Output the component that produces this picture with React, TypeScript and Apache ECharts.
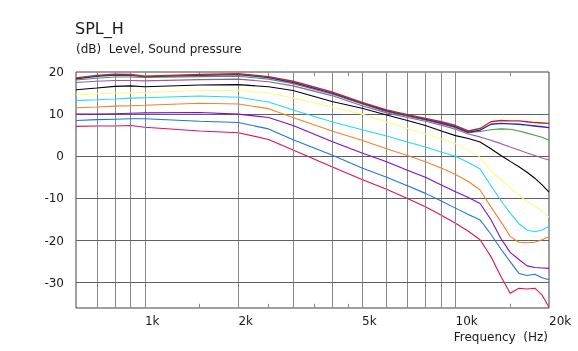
import React, { useEffect, useRef } from "react";
import * as echarts from "echarts";

// Frequencies (Hz) shared by every curve
const freqs = [600, 700, 800, 900, 1000, 1500, 2000, 2500, 3000, 4000, 5000, 6000, 7000, 8000, 9000, 10000, 11000, 12000, 13000, 14000, 15000, 16000, 17000, 18000, 19000, 20000];

// SPL curves (dB), top to bottom
const redCurve = [18.6, 19.2, 19.5, 19.4, 19.0, 19.4, 19.6, 18.9, 17.8, 15.3, 12.8, 11.0, 9.9, 9.0, 8.2, 7.3, 6.0, 6.6, 8.2, 8.5, 8.4, 8.4, 8.2, 8.0, 7.9, 7.8];
const navyCurve = [18.4, 19.0, 19.3, 19.2, 18.9, 19.2, 19.4, 18.7, 17.5, 15.0, 12.6, 10.8, 9.7, 8.8, 7.9, 7.0, 5.7, 6.2, 7.6, 7.8, 7.7, 7.6, 7.4, 7.2, 7.0, 6.8];
const greenCurve = [18.1, 18.5, 18.8, 18.8, 18.7, 18.9, 19.0, 18.3, 17.2, 14.8, 12.4, 10.6, 9.5, 8.6, 7.7, 6.8, 5.6, 5.9, 6.3, 6.5, 6.4, 6.0, 5.5, 5.0, 4.5, 3.8];
const mauveCurve = [17.5, 17.8, 18.0, 18.0, 17.9, 18.2, 18.3, 17.7, 16.7, 14.4, 12.0, 10.3, 9.2, 8.3, 7.4, 6.4, 5.3, 4.6, 3.8, 3.0, 2.2, 1.5, 0.8, 0.2, -0.4, -0.9];
const blackCurve = [15.8, 16.2, 16.6, 16.7, 16.5, 16.9, 17.0, 16.5, 15.6, 13.0, 11.4, 9.8, 8.5, 7.3, 6.0, 4.9, 4.2, 3.4, 1.8, 0.2, -1.2, -2.5, -3.8, -5.2, -6.8, -8.5];
const yellowCurve = [14.6, 14.8, 15.0, 15.1, 15.1, 15.6, 15.6, 15.0, 13.8, 11.7, 10.0, 8.1, 6.6, 5.3, 4.1, 3.0, 1.4, -0.2, -3.5, -5.5, -7.5, -9.2, -10.8, -11.8, -13.0, -14.5];
const cyanCurve = [13.2, 13.4, 13.6, 13.8, 13.9, 14.3, 14.0, 12.9, 11.0, 8.2, 6.3, 4.8, 3.4, 2.2, 1.0, 0.0, -1.5, -3.0, -7.0, -10.5, -13.5, -16.0, -17.5, -17.9, -17.5, -16.6];
const orangeCurve = [11.5, 11.7, 11.9, 12.0, 12.1, 12.6, 12.4, 11.3, 9.2, 6.0, 3.8, 1.8, 0.2, -1.3, -2.8, -4.3, -6.0, -8.0, -12.0, -15.5, -19.0, -20.4, -20.5, -20.4, -19.8, -19.1];
const violetCurve = [10.0, 10.0, 10.1, 10.2, 10.3, 10.4, 10.0, 9.2, 7.3, 3.5, 0.8, -1.3, -3.3, -5.0, -6.8, -8.4, -9.8, -11.2, -15.0, -19.5, -22.8, -24.5, -26.0, -26.4, -26.5, -26.6];
const blueCurve = [8.5, 8.7, 8.8, 8.9, 8.9, 8.3, 8.0, 6.5, 3.9, 0.3, -2.8, -5.0, -7.0, -8.8, -10.6, -12.3, -13.8, -15.1, -18.5, -22.0, -25.0, -27.8, -28.3, -28.0, -28.8, -29.3];
const crimsonCurve = [7.1, 7.2, 7.2, 7.3, 6.9, 6.0, 5.6, 4.0, 1.5, -2.5, -5.5, -7.8, -10.0, -12.0, -14.0, -15.9, -17.8, -19.8, -23.8, -28.5, -32.5, -31.3, -31.5, -31.3, -32.9, -35.8];

const curves = [redCurve, navyCurve, greenCurve, mauveCurve, blackCurve, yellowCurve, cyanCurve, orangeCurve, violetCurve, blueCurve, crimsonCurve];
const curveColors = ["#c02828", "#2828b0", "#4a9a4a", "#9a58aa", "#000000", "#fafa8c", "#28d8f0", "#f08428", "#7a10c8", "#2074e0", "#e0105e"];

// Axis ticks / grid
const xLabelValues = [1000, 2000, 5000, 10000, 20000];
const xGridValues = [700, 800, 900, 1000, 2000, 3000, 4000, 5000, 6000, 7000, 8000, 9000, 10000];
const xMinorTicks = [1500, 2500, 3500, 4500, 15000];
const yLabelValues = [20, 10, 0, -10, -20, -30];
const yGridValues = [10, 0, -10, -20, -30];
const X_MIN = 600;
const X_MAX = 20000;
const Y_MIN = -36;
const Y_MAX = 20;

const FONT = "DejaVu Sans";

export default function App() {
  const ref = useRef<HTMLDivElement>(null);

  useEffect(() => {
    document.body.style.margin = "0";
    const chart = echarts.init(ref.current!, undefined, { renderer: "svg" });

    const gridLines: any[] = [];
    xGridValues.forEach((v) => gridLines.push({ xAxis: v, lineStyle: { color: "#8a8a8a", width: 1, type: "solid" } }));
    yGridValues.forEach((v) => gridLines.push({ yAxis: v, lineStyle: { color: "#606060", width: 1, type: "solid" } }));
    xMinorTicks.forEach((v) => {
      gridLines.push([
        { coord: [v, Y_MIN], lineStyle: { color: "#8a8a8a", width: 1, type: "solid" } },
        { coord: [v, Y_MIN + 1] },
      ]);
      gridLines.push([
        { coord: [v, Y_MAX], lineStyle: { color: "#8a8a8a", width: 1, type: "solid" } },
        { coord: [v, Y_MAX - 1] },
      ]);
    });

    const series: any[] = [
      {
        type: "line",
        name: "grid",
        data: [],
        z: 1,
        silent: true,
        markLine: {
          silent: true,
          symbol: ["none", "none"],
          label: { show: false },
          emphasis: { disabled: true },
          animation: false,
          data: gridLines,
        },
      },
    ];
    curves.forEach((c, i) => {
      series.push({
        type: "line",
        name: "c" + i,
        z: 3 + (curves.length - i),
        data: freqs.map((f, j) => [f, c[j]]),
        showSymbol: false,
        symbol: "none",
        silent: true,
        lineStyle: { color: curveColors[i], width: i < 2 ? 1.4 : 1.1 },
        itemStyle: { color: curveColors[i] },
      });
    });

    chart.setOption({
      animation: false,
      title: [
        { text: "SPL_H", left: 75, top: 20, padding: 0, textStyle: { fontFamily: FONT, fontSize: 16, fontWeight: "normal", color: "#1a1a1a" } },
        { text: "(dB)  Level, Sound pressure", left: 76, top: 43, padding: 0, textStyle: { fontFamily: FONT, fontSize: 12, fontWeight: "normal", color: "#1a1a1a" } },
      ],
      grid: { left: 76, right: 29, top: 72, bottom: 43, show: true, borderColor: "#404040", borderWidth: 1, backgroundColor: "transparent" },
      xAxis: {
        type: "log",
        logBase: 10,
        min: X_MIN,
        max: X_MAX,
        axisLine: { show: false },
        axisTick: { show: false },
        splitLine: { show: false },
        minorTick: { show: false },
        axisLabel: {
          customValues: xLabelValues,
          formatter: (v: number) => v / 1000 + "k",
          align: "left",
          margin: 7,
          fontFamily: FONT,
          fontSize: 12,
          color: "#1a1a1a",
        },
      },
      yAxis: {
        type: "value",
        min: Y_MIN,
        max: Y_MAX,
        axisLine: { show: false },
        axisTick: { show: false },
        splitLine: { show: false },
        axisLabel: {
          customValues: yLabelValues,
          margin: 12,
          fontFamily: FONT,
          fontSize: 12,
          color: "#1a1a1a",
        },
      },
      graphic: [
        {
          type: "text",
          right: 30,
          top: 331,
          style: { text: "Frequency  (Hz)", font: `12px "${FONT}"`, fill: "#1a1a1a" },
        },
      ],
      series,
    });

    return () => chart.dispose();
  }, []);

  return <div ref={ref} style={{ position: "fixed", left: 0, top: 0, width: 578, height: 351 }} />;
}
